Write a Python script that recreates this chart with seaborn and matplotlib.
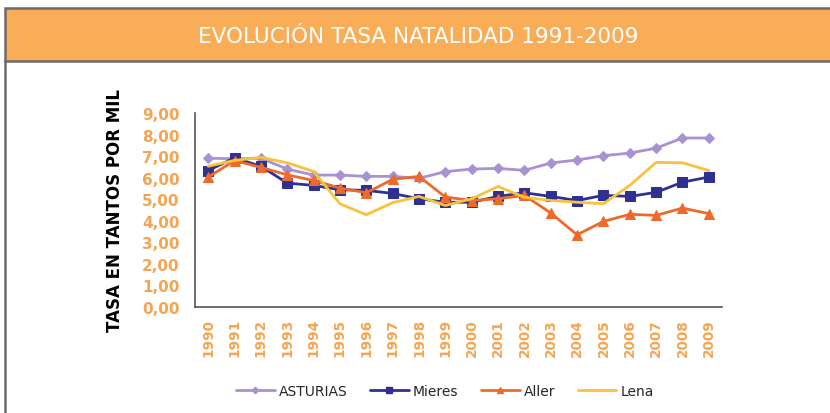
import pandas as pd
import matplotlib
matplotlib.use("Agg")
import matplotlib.pyplot as plt
import seaborn as sns
from matplotlib.patches import Rectangle
from matplotlib.lines import Line2D
from matplotlib.ticker import FixedLocator, FuncFormatter

years = [str(y) for y in range(1990, 2010)]

asturias = [6.90, 6.88, 6.90, 6.40, 6.12, 6.12, 6.06, 6.06, 5.97, 6.28,
            6.40, 6.43, 6.34, 6.68, 6.82, 7.02, 7.14, 7.37, 7.84, 7.84]
mieres = [6.33, 6.92, 6.53, 5.75, 5.64, 5.44, 5.41, 5.27, 5.02, 4.86,
          4.86, 5.13, 5.30, 5.13, 4.94, 5.18, 5.13, 5.32, 5.79, 6.03]
aller = [6.03, 6.79, 6.48, 6.13, 5.87, 5.52, 5.30, 5.92, 6.06, 5.10,
         4.94, 5.02, 5.18, 4.36, 3.35, 3.97, 4.30, 4.25, 4.59, 4.33]
lena = [6.53, 6.80, 6.94, 6.69, 6.29, 4.79, 4.28, 4.84, 5.13, 4.71,
        5.02, 5.59, 5.09, 4.94, 4.86, 4.79, 5.64, 6.71, 6.69, 6.33]

series = {"ASTURIAS": asturias, "Mieres": mieres, "Aller": aller, "Lena": lena}
colors = {"ASTURIAS": "#a992d2", "Mieres": "#2f3192", "Aller": "#ee6a2b", "Lena": "#f8c33c"}
markers = {"ASTURIAS": "D", "Mieres": "s", "Aller": "^", "Lena": None}
msizes = {"ASTURIAS": 5.5, "Mieres": 7.5, "Aller": 7, "Lena": 0}

sns.set_style("white")
plt.rcParams['font.family'] = ['DejaVu Sans']

fig = plt.figure(figsize=(8.30, 4.14), dpi=100)
W, H = 830, 414

# orange title banner
fig.patches.append(Rectangle((5 / W, 1 - 62 / H), 1.0, 53 / H, transform=fig.transFigure,
                             facecolor="#f9ad57", edgecolor="#6b6b6b", linewidth=1.8, zorder=0))
fig.lines.append(Line2D([5 / W, 5 / W], [0, 1 - 62 / H], transform=fig.transFigure,
                        color="#6b6b6b", linewidth=1.8))
fig.text(418 / W, 1 - 37 / H, "EVOLUCIÓN TASA NATALIDAD 1991-2009", color="white",
         ha="center", va="center", fontsize=15.5, family=["Liberation Sans Narrow", "DejaVu Sans"])

ax = fig.add_axes([195 / W, 1 - 308 / H, 527 / W, 194 / H])

idx = list(range(len(years)))
for name, vals in series.items():
    df = pd.DataFrame({"x": idx, "y": vals})
    sns.lineplot(data=df, x="x", y="y", ax=ax, color=colors[name], linewidth=2,
                 marker=markers[name], markersize=msizes[name],
                 markeredgecolor=colors[name], label=name, legend=False)

ax.set_xlim(-0.5, len(years) - 0.5)
ax.set_ylim(0, 9)

for side in ["top", "right"]:
    ax.spines[side].set_visible(False)
for side in ["left", "bottom"]:
    ax.spines[side].set_color("#555555")
    ax.spines[side].set_linewidth(1.2)

ax.set_xticks(idx)
ax.set_xticklabels(years, rotation=90, color="#f5a552", fontsize=9.8, fontweight="bold")
ax.xaxis.set_minor_locator(FixedLocator([i - 0.5 for i in range(len(years) + 1)]))
ax.tick_params(axis="x", which="major", length=0, pad=8)
ax.tick_params(axis="x", which="minor", length=4, width=1, color="#555555", direction="out")

ax.set_yticks(range(0, 10))
ax.yaxis.set_major_formatter(FuncFormatter(lambda v, p: f"{v:.2f}".replace(".", ",")))
ax.tick_params(axis="y", length=4, width=1, color="#555555", direction="out", pad=7,
               labelsize=11, labelcolor="#f5a552")
for t in ax.get_yticklabels():
    t.set_fontweight("bold")

ax.set_xlabel("")
ax.set_ylabel("TASA EN TANTOS POR MIL", fontsize=12, fontweight="bold", color="black")
ax.yaxis.set_label_coords(-0.135, 0.5)

handles = [Line2D([0], [0], color=colors[n], linewidth=2, marker=markers[n],
                  markersize=msizes[n] * 0.6 if msizes[n] else 0, markeredgecolor=colors[n])
           for n in series]
fig.legend(handles, list(series.keys()), loc="center", bbox_to_anchor=(445 / W, 1 - 392 / H),
           ncol=4, frameon=False, fontsize=10, handlelength=2.8, columnspacing=1.6, handletextpad=0.3)

fig.savefig("out.png", dpi=100)
